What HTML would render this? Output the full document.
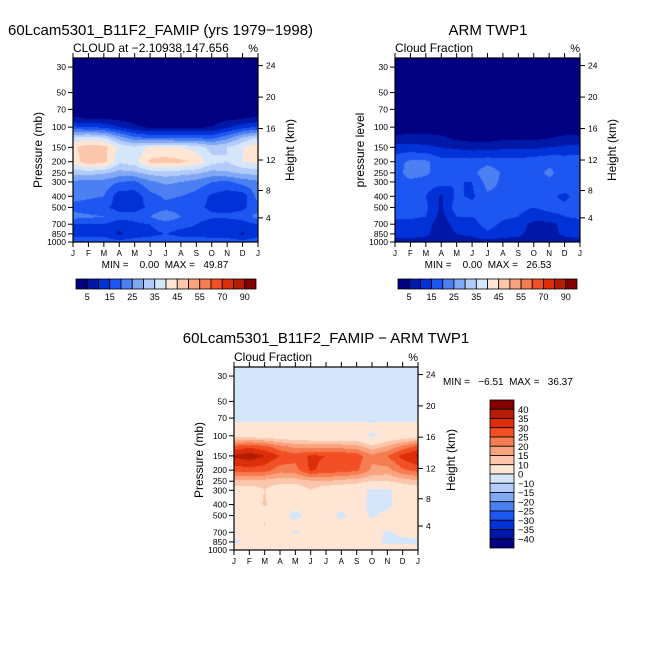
<!DOCTYPE html>
<html><head><meta charset="utf-8">
<style>
body{margin:0;background:#fff;}
#root{position:relative;width:654px;height:654px;overflow:hidden;background:#fff;font-family:"Liberation Sans",sans-serif;}
canvas{position:absolute;}
svg{position:absolute;left:0;top:0;}
text{white-space:pre;}
</style></head>
<body>
<div id="root">
<canvas id="c1"></canvas>
<canvas id="c2"></canvas>
<canvas id="c3"></canvas>
<svg id="svg" width="654" height="654"></svg>
</div>
<script>
// ---------- data ----------
const months = ["J","F","M","A","M","J","J","A","S","O","N","D","J"];
const levels = [25,30,50,70,85,100,125,150,200,250,300,400,500,600,700,850,1000];
const pTicks = [30,50,70,100,150,200,250,300,400,500,700,850,1000];
const hTicks = [24,20,16,12,8,4];
const seqBounds = [5,10,15,20,25,30,35,40,45,50,55,60,70,80,90];
const seqLabels = ["5","15","25","35","45","55","70","90"];
const diffBounds = [-40,-35,-30,-25,-20,-15,-10,0,10,15,20,25,30,35,40];
const diffLabels = ["40","35","30","25","20","15","10","0","−10","−15","−20","−25","−30","−35","−40"];
const colors = ["#000080","#0018a8","#0032d8","#1e56f2","#4c80f2","#80a8f4","#b2cbf8","#d6e6fa","#ffe6d4","#fcc6ac","#f9a47e","#f67c52","#f25024","#dc2e08","#b41c04","#840000"];
// model cloud fraction (rows = levels, cols = months)
const model = [
[2,2,2,2,2,2,2,2,2,2,2,2,2],
[2,2,2,2,2,2,2,2,2,2,2,2,2],
[2,2,2,2,2,2,2,2,2,2,2,2,2],
[2,2,2,2,2,2,2,2,2,2,2,2,2],
[6,5,5,4,3,2,2,2,2,3,4,5,6],
[16,15,14,10,6,4,4,4,4,5,9,13,16],
[36,38,36,28,22,20,20,20,20,19,24,31,36],
[44,48,47,39,36,41,41,40,38,33,35,40,44],
[42,48,47,36,38,46,47,46,44,37,35,40,42],
[32,32,31,28,29,32,33,32,31,28,29,31,32],
[24,23,23,20,19,24,26,25,23,20,19,22,24],
[22,21,20,12,12,18,21,20,18,14,12,12,22],
[18,17,16,13,13,16,18,17,16,14,13,14,18],
[22,21,20,17,17,20,25,20,18,16,16,17,22],
[15,15,15,12,14,15,17,16,15,12,12,13,15],
[14,14,14,9,13,14,15,14,14,13,13,9,14],
[17,17,17,17,17,17,18,17,17,17,17,17,17]];
// ARM observed
const obs = [
[1,1,1,1,1,1,1,1,1,1,1,1,1],
[1,1,1,1,1,1,1,1,1,1,1,1,1],
[1,1,1,1,1,1,1,1,1,1,1,1,1],
[1,1,1,1,1,1,1,1,1,1,1,1,1],
[1,1,1,1,1,1,1,1,1,1,1,1,1],
[2,2,2,2,2,2,2,2,2,2,2,2,2],
[6,7,7,6,4,3,3,4,4,4,5,6,6],
[12,12,11,10,9,8,8,9,9,9,10,11,12],
[18,21,21,17,17,17,18,17,17,18,19,18,18],
[18,22,21,17,18,18,24,19,18,18,21,18,18],
[18,19,18,17,15,15,22,19,18,18,19,18,18],
[17,17,15,9,16,14,19,19,17,15,16,14,17],
[17,17,16,9,18,17,20,19,16,15,16,16,17],
[16,16,15,8,15,15,18,16,15,13,14,15,16],
[13,13,12,7,12,13,17,14,13,8,8,12,13],
[12,12,11,7,10,11,14,12,11,8,8,11,12],
[8,8,8,8,8,8,8,8,8,8,8,8,8]];
// difference model - obs
const diff = [
[-2,-2,-2,-2,-2,-2,-2,-2,-2,-2,-2,-2,-2],
[-2,-2,-2,-2,-2,-2,-2,-2,-2,-2,-2,-2,-2],
[-2,-2,-2,-2,-2,-2,-2,-2,-2,-2,-2,-2,-2],
[-2,-2,-2,-2,-2,-2,-2,-2,-2,-2,-2,-2,-2],
[3,3,3,3,3,3,3,3,3,2,3,3,3],
[7,7,6,5,4,4,4,4,4,-2,4,5,7],
[27,29,27,22,19,18,18,18,17,12,16,22,27],
[36,38,35,30,27,31,30,30,28,21,25,32,36],
[27,28,27,22,23,31,28,28,26,19,18,24,27],
[14,14,13,12,12,14,15,13,12,10,10,12,14],
[6,6,10,5,5,10,5,5,5,-2,-2,5,6],
[5,5,11,4,3,6,3,3,3,-2,-2,4,5],
[3,3,4,4,-3,3,3,-2,3,-1,2,3,3],
[3,3,11,3,3,3,3,3,3,3,3,3,3],
[3,3,3,3,-1,3,3,3,3,3,-1,2,3],
[-2,3,3,3,3,3,3,3,3,3,-2,-2,-2],
[4,6,6,6,6,6,6,6,6,6,6,6,4]];

// ---------- drawing ----------
const svg = document.getElementById('svg');
const NS = "http://www.w3.org/2000/svg";
function mk(tag, attrs, parent){
  const e = document.createElementNS(NS, tag);
  for (const k in attrs) e.setAttribute(k, attrs[k]);
  (parent||svg).appendChild(e);
  return e;
}
function txt(x,y,s,size,anchor,name,rot){
  const t = mk('text',{x:x,y:y,'font-size':size,'text-anchor':anchor||'start',fill:'#000','font-family':'Liberation Sans, sans-serif'});
  t.setAttributeNS("http://www.w3.org/XML/1998/namespace","xml:space","preserve");
  if(rot) t.setAttribute('transform','rotate(-90 '+x+' '+y+')');
  t.textContent = s;
  
  
  return t;
}
const PTOP = 25;
function heightToP(z){ return z<=11 ? 1013.25*Math.pow(1-z/44.33,5.256) : 226.3*Math.exp(-(z-11)/6.34); }
function colorIndex(v,bounds){ let i=0; while(i<bounds.length && v>=bounds[i]) i++; return i; }

function panel(cfg){
  const {x0,x1,y0,y1,data,bounds,canvasId,prefix} = cfg;
  const W=x1-x0, H=y1-y0;
  const yOf = p => y1 - H*Math.log(1000/p)/Math.log(1000/PTOP);
  const xOf = m => x0 + W*m/(months.length-1);
  const cv = document.getElementById(canvasId);
  cv.width=W; cv.height=H; cv.style.left=x0+'px'; cv.style.top=y0+'px';
  const ctx = cv.getContext('2d');
  const img = ctx.createImageData(W,H);
  const lnL = levels.map(p=>Math.log(p));
  const rgb = colors.map(c=>[parseInt(c.substr(1,2),16),parseInt(c.substr(3,2),16),parseInt(c.substr(5,2),16)]);
  for(let py=0;py<H;py++){
    const p = PTOP*Math.exp((py+0.5)/H*Math.log(1000/PTOP));
    const lp = Math.log(p);
    let j=0; while(j<levels.length-2 && lp>lnL[j+1]) j++;
    let fy = (lp-lnL[j])/(lnL[j+1]-lnL[j]); fy=Math.max(0,Math.min(1,fy));
    for(let px=0;px<W;px++){
      const mf = (px+0.5)/W*(months.length-1);
      let i=Math.min(Math.floor(mf),months.length-2); const fx=mf-i;
      const v = (data[j][i]*(1-fx)+data[j][i+1]*fx)*(1-fy)+(data[j+1][i]*(1-fx)+data[j+1][i+1]*fx)*fy;
      const c = rgb[colorIndex(v,bounds)];
      const o=(py*W+px)*4; img.data[o]=c[0];img.data[o+1]=c[1];img.data[o+2]=c[2];img.data[o+3]=255;
    }
  }
  ctx.putImageData(img,0,0);
  const g = mk('g',{});
  
  
  mk('rect',{x:x0,y:y0,width:W,height:H,fill:'none',stroke:'#000','stroke-width':1.2},g);
  pTicks.forEach(p=>{
    const y=yOf(p);
    mk('line',{x1:x0-5,y1:y,x2:x0,y2:y,stroke:'#000'},g);
    txt(x0-7,y+3,String(p),8.5,'end',prefix+'-pressure-tick');
  });
  hTicks.forEach(z=>{
    const y=yOf(heightToP(z));
    mk('line',{x1:x1,y1:y,x2:x1+5,y2:y,stroke:'#000'},g);
    txt(x1+8,y+3,String(z),8.5,'start',prefix+'-height-tick');
  });
  months.forEach((m,i)=>{
    const x=xOf(i);
    mk('line',{x1:x,y1:y1,x2:x,y2:y1+5,stroke:'#000'},g);
    mk('line',{x1:x,y1:y0,x2:x,y2:y0-5,stroke:'#000'},g);
    txt(x,y1+14,m,8,'middle',prefix+'-month-tick');
  });
  return {xOf,yOf};
}

const P1 = panel({x0:73,x1:258,y0:58,y1:242,data:model,bounds:seqBounds,canvasId:'c1',prefix:'model'});
const P2 = panel({x0:395,x1:580,y0:58,y1:242,data:obs,bounds:seqBounds,canvasId:'c2',prefix:'obs'});
const P3 = panel({x0:234,x1:418,y0:367,y1:550,data:diff,bounds:diffBounds,canvasId:'c3',prefix:'diff'});

// titles & labels
txt(8,35,"60Lcam5301_B11F2_FAMIP (yrs 1979−1998)",15,'start','model-title');
txt(73,52,"CLOUD at −2.10938,147.656",12,'start','model-subtitle');
txt(258,52,"%",11,'end','model-units');
txt(42,150,"Pressure (mb)",12,'middle','model-y-axis-title',true);
txt(294,150,"Height (km)",12,'middle','model-height-axis-title',true);
txt(165,268,"MIN =    0.00  MAX =   49.87",10,'middle','model-minmax');

txt(488,35,"ARM TWP1",15,'middle','obs-title');
txt(395,52,"Cloud Fraction",12,'start','obs-subtitle');
txt(580,52,"%",11,'end','obs-units');
txt(364,150,"pressure level",12,'middle','obs-y-axis-title',true);
txt(616,150,"Height (km)",12,'middle','obs-height-axis-title',true);
txt(488,268,"MIN =    0.00  MAX =   26.53",10,'middle','obs-minmax');

txt(326,343,"60Lcam5301_B11F2_FAMIP − ARM TWP1",15,'middle','diff-title');
txt(234,361,"Cloud Fraction",12,'start','diff-subtitle');
txt(418,361,"%",11,'end','diff-units');
txt(203,460,"Pressure (mb)",12,'middle','diff-y-axis-title',true);
txt(455,460,"Height (km)",12,'middle','diff-height-axis-title',true);
txt(443,385,"MIN =   −6.51  MAX =   36.37",10,'start','diff-minmax');

// horizontal colorbars
function hbar(x0,x1,y0,h,prefix){
  const w=(x1-x0)/colors.length;
  colors.forEach((c,i)=>{
    const r=mk('rect',{x:x0+i*w,y:y0,width:w,height:h,fill:c,stroke:'#000','stroke-width':0.8});
    
    
  });
  seqLabels.forEach((s,k)=>{
    txt(x0+(2*k+1)*w,y0+h+11,s,9,'middle',prefix+'-colorbar-label');
  });
}
hbar(76,256,279,10,'model');
hbar(398,577,279,10,'obs');

// vertical colorbar
(function(){
  const x0=490,w=24,y0=400,y1=548,h=(y1-y0)/colors.length;
  for(let i=0;i<colors.length;i++){
    const r=mk('rect',{x:x0,y:y0+i*h,width:w,height:h,fill:colors[colors.length-1-i],stroke:'#000','stroke-width':0.8});
    
    
  }
  diffLabels.forEach((s,k)=>{
    txt(x0+w+4,y0+(k+1)*h+3.5,s,9.5,'start','diff-colorbar-label');
  });
})();
</script>
</body></html>
